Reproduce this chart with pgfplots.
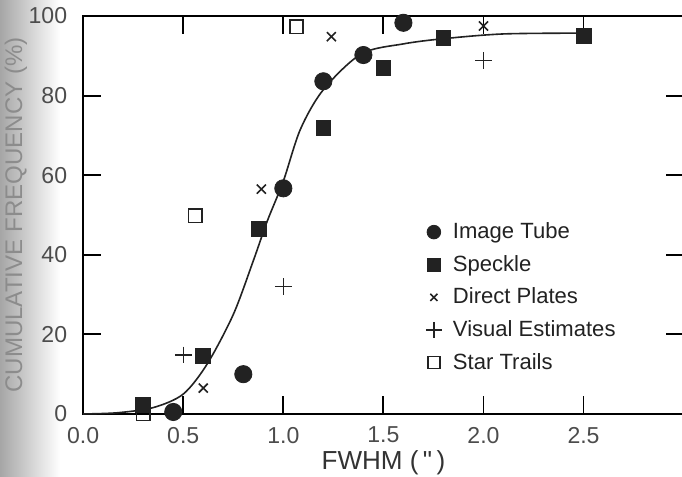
\documentclass[border=0pt]{standalone}
\usepackage{pgfplots}
\pgfplotsset{compat=1.18}
\usepackage{fontspec}
\setmainfont{Liberation Sans}
\usetikzlibrary{backgrounds}
\definecolor{ink}{HTML}{222222}
\begin{document}
\begin{tikzpicture}
\begin{axis}[
  scale only axis, width=299.5pt, height=198.5pt,
  xmin=0, xmax=3, ymin=0, ymax=100,
  xtick={0,0.5,1,1.5,2,2.5},
  xticklabels={0.0,0.5,1.0,1.5,2.0,2.5},
  ytick={0,20,40,60,80,100},
  tick align=inside, major tick length=9pt,
  every tick/.style={black, line width=0.9pt},
  axis line style={line width=1pt},
  clip=false,
  /pgf/number format/assume math mode=true,
  ticklabel style={font=\fontsize{11.5}{13}\selectfont, text=black!70},
  xticklabel style={yshift=-3pt},
  yticklabel style={xshift=-4.5pt},
  xlabel={FWHM (\,\textquotedbl\,)},
  xlabel style={at={(axis description cs:0.5,-0.123)}, anchor=center, font=\fontsize{13}{15}\selectfont, text=black!80},
  ylabel={CUMULATIVE FREQUENCY (\%)},
  ylabel style={at={(axis description cs:-0.112,0.5)}, anchor=center, font=\fontsize{12}{14}\selectfont, text=black!45},
  legend style={draw=none, fill=none, at={(axis cs:1.645,50.2)}, anchor=north west,
    font=\fontsize{11}{13}\selectfont, row sep=2.8pt, text=ink},
  legend cell align=left,
  legend image code/.code={\path (0,0) (0.5cm,0); \draw[#1] plot coordinates {(0.25cm,0cm)};},
]
\coordinate (sw) at (rel axis cs:0,0);
\coordinate (ne) at (rel axis cs:1,1);
\coordinate (nw) at (rel axis cs:0,1);
% legend images (smaller marks, as in the original)
\addlegendimage{only marks, mark=*, mark size=3.4pt, draw=ink, fill=ink}
\addlegendentry{Image Tube}
\addlegendimage{only marks, mark=square*, mark size=3.1pt, draw=ink, fill=ink}
\addlegendentry{Speckle}
\addlegendimage{only marks, mark=x, mark size=2.5pt, draw=ink, line width=0.8pt}
\addlegendentry{Direct Plates}
\addlegendimage{only marks, mark=+, mark size=4pt, draw=ink, line width=0.7pt}
\addlegendentry{Visual Estimates}
\addlegendimage{only marks, mark=square, mark size=3pt, draw=ink, fill=white, line width=0.8pt}
\addlegendentry{Star Trails}
% Image Tube
\addplot[only marks, mark=*, mark size=4.3pt, draw=ink, fill=ink, forget plot] coordinates {
 (0.45,0.5) (0.8,10) (1.0,56.7) (1.2,83.6) (1.4,90.2) (1.6,98.3)};
% Speckle
\addplot[only marks, mark=square*, mark size=3.7pt, draw=ink, fill=ink, forget plot] coordinates {
 (0.3,2.3) (0.6,14.6) (0.88,46.6) (1.2,71.8) (1.5,86.9) (1.8,94.4) (2.5,95)};
% Direct Plates
\addplot[only marks, mark=x, mark size=3.2pt, draw=ink, line width=0.8pt, forget plot] coordinates {
 (0.6,6.5) (0.89,56.5) (1.24,94.8) (2.0,97.5)};
% Visual Estimates
\addplot[only marks, mark=+, mark size=4.2pt, draw=ink, line width=0.7pt, forget plot] coordinates {
 (0.5,14.8) (1.0,32) (2.0,88.8)};
% Star Trails
\addplot[only marks, mark=square, mark size=3.3pt, draw=ink, fill=white, line width=0.8pt, forget plot] coordinates {
 (0.3,0) (0.56,49.8) (1.065,97.3)};
% fitted curve
\addplot[smooth, tension=0.5, draw=ink, line width=0.8pt, forget plot] coordinates {
 (0,0) (0.17,0.3) (0.35,1.6) (0.5,5) (0.62,12.6) (0.75,25) (0.85,38.5) (0.92,48.5)
 (1.0,58.5) (1.085,71.5) (1.2,81.5) (1.39,90.5) (1.6,93) (1.8,94.3) (2.1,95.5) (2.5,95.7)};
\end{axis}
\begin{scope}[on background layer]
\shade[left color=black!35, right color=white] ([shift={(-41.5pt,-31pt)}]sw) rectangle ([shift={(-11.5pt,8pt)}]nw);
\end{scope}
\pgfresetboundingbox
\path[use as bounding box] ([shift={(-41.5pt,-31pt)}]sw) rectangle ([shift={(-0.8pt,8pt)}]ne);
\end{tikzpicture}
\end{document}
